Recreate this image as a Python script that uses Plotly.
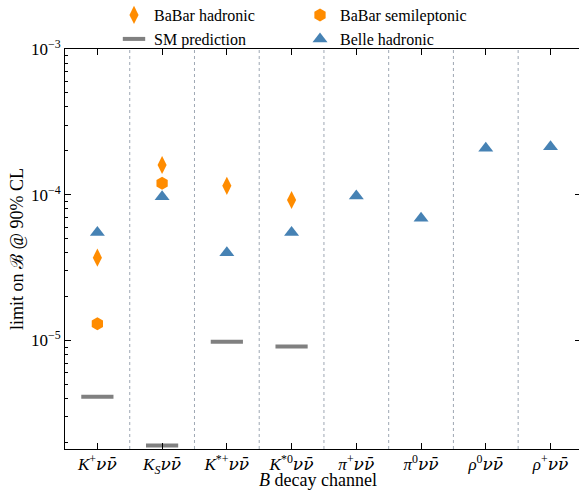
import plotly.graph_objects as go

# ---------------- data ----------------
channels = ["K+", "KS", "K*+", "K*0", "pi+", "pi0", "rho0", "rho+"]
NUNU = "<span style='font-family:DejaVu Serif'><i>νν̄</i></span>"
tick_labels = [
    "<i>K</i><sup>+</sup>" + NUNU,
    "<i>K<sub>S</sub></i>" + NUNU,
    "<i>K</i><sup>*+</sup>" + NUNU,
    "<i>K</i><sup>*0</sup>" + NUNU,
    "<i>π</i><sup>+</sup>" + NUNU,
    "<i>π</i><sup>0</sup>" + NUNU,
    "<i>ρ</i><sup>0</sup>" + NUNU,
    "<i>ρ</i><sup>+</sup>" + NUNU,
]
babar_hadronic = [3.7e-5, 1.6e-4, 1.15e-4, 9.2e-5, None, None, None, None]
babar_semileptonic = [1.3e-5, 1.2e-4, None, None, None, None, None, None]
sm_prediction = [4.1e-6, 1.9e-6, 9.8e-6, 9.1e-6, None, None, None, None]
belle_hadronic = [5.5e-5, 9.7e-5, 4.0e-5, 5.5e-5, 9.8e-5, 6.9e-5, 2.08e-4, 2.13e-4]

y_tick_vals = [1e-5, 1e-4, 1e-3]
y_tick_text = ["10<sup>−5</sup>", "10<sup>−4</sup>", "10<sup>−3</sup>"]

# ---------------- style ----------------
ORANGE = "#FF8C00"
BLUE = "#4682B4"
GRAY = "#808080"
FONT = "Liberation Serif"

x = list(range(len(channels)))

fig = go.Figure()
fig.add_trace(go.Scatter(
    x=x, y=babar_hadronic, mode="markers", name="BaBar hadronic",
    marker=dict(symbol="diamond-tall", size=13, color=ORANGE, line=dict(width=0)),
    legend="legend"))
fig.add_trace(go.Scatter(
    x=x, y=babar_semileptonic, mode="markers", name="BaBar semileptonic",
    marker=dict(symbol="hexagon", size=13, color=ORANGE, line=dict(width=0)),
    legend="legend"))
fig.add_trace(go.Scatter(
    x=x, y=sm_prediction, mode="markers", name="SM prediction",
    marker=dict(symbol="line-ew", size=23, color=GRAY, line=dict(width=4, color=GRAY)),
    legend="legend2"))
fig.add_trace(go.Scatter(
    x=x, y=belle_hadronic, mode="markers", name="Belle hadronic",
    marker=dict(symbol="triangle-up", size=13, color=BLUE, line=dict(width=0)),
    legend="legend2"))

# dotted separators between channels
for i in range(len(channels) - 1):
    fig.add_shape(type="line", xref="x", yref="paper", x0=i + 0.5, x1=i + 0.5, y0=0, y1=1,
                  line=dict(color="#9ea7b3", width=1, dash="dot"), layer="below")

minor_vals = [m * 10.0 ** e for e in (-6, -5, -4) for m in range(2, 10)]

fig.update_layout(
    width=579, height=492,
    margin=dict(l=65, r=0, t=49, b=43, autoexpand=False),
    paper_bgcolor="white", plot_bgcolor="white",
    font=dict(family=FONT, size=16, color="black"),
    showlegend=True,
    legend=dict(orientation="h", xref="container", yref="container",
                x=114 / 579, y=1 - 15 / 492, xanchor="left", yanchor="middle",
                entrywidth=141, entrywidthmode="pixels",
                font=dict(family=FONT, size=16), bgcolor="rgba(0,0,0,0)"),
    legend2=dict(orientation="h", xref="container", yref="container",
                 x=114 / 579, y=1 - 39 / 492, xanchor="left", yanchor="middle",
                 entrywidth=141, entrywidthmode="pixels",
                 font=dict(family=FONT, size=16), bgcolor="rgba(0,0,0,0)"),
    xaxis=dict(
        range=[-0.5, 7.44], tickmode="array", tickvals=x, ticktext=tick_labels,
        showline=True, linecolor="black", linewidth=1, mirror="ticks",
        ticks="inside", ticklen=6, tickcolor="black", showgrid=False, zeroline=False,
        tickfont=dict(family=FONT, size=17),
        automargin=False,
    ),
    yaxis=dict(
        type="log", range=[-5.745, -3.0], tickmode="array",
        tickvals=y_tick_vals, ticktext=y_tick_text,
        showline=True, linecolor="black", linewidth=1, mirror=False,
        ticks="inside", ticklen=6, tickcolor="black", showgrid=False, zeroline=False,
        minor=dict(tickmode="array", tickvals=minor_vals, ticks="inside", ticklen=3,
                   tickcolor="black", showgrid=False),
        tickfont=dict(family=FONT, size=17),
        title=dict(text="limit on ℬ @ 90% CL", font=dict(family=FONT, size=18), standoff=2),
        automargin=False,
    ),
    yaxis2=dict(
        type="log", range=[-5.745, -3.0], overlaying="y", side="right",
        tickmode="array", tickvals=y_tick_vals, showticklabels=False,
        ticks="inside", ticklen=4, tickcolor="black", showline=False, showgrid=False,
        zeroline=False,
    ),
    annotations=[dict(text="<i>B</i> decay channel", xref="paper", yref="paper",
                      x=(318 - 65) / 514, y=-43 / 400, xanchor="center", yanchor="bottom",
                      showarrow=False, font=dict(family=FONT, size=18))],
)
# invisible trace to activate the right-hand tick axis
fig.add_trace(go.Scatter(x=[None], y=[None], yaxis="y2", showlegend=False, hoverinfo="skip"))

fig.write_html(
    "out.html",
    config={"displayModeBar": False},
    post_script="document.body.style.margin='0px';document.body.style.padding='0px';"
                "window.dispatchEvent(new Event('resize'));",
)
